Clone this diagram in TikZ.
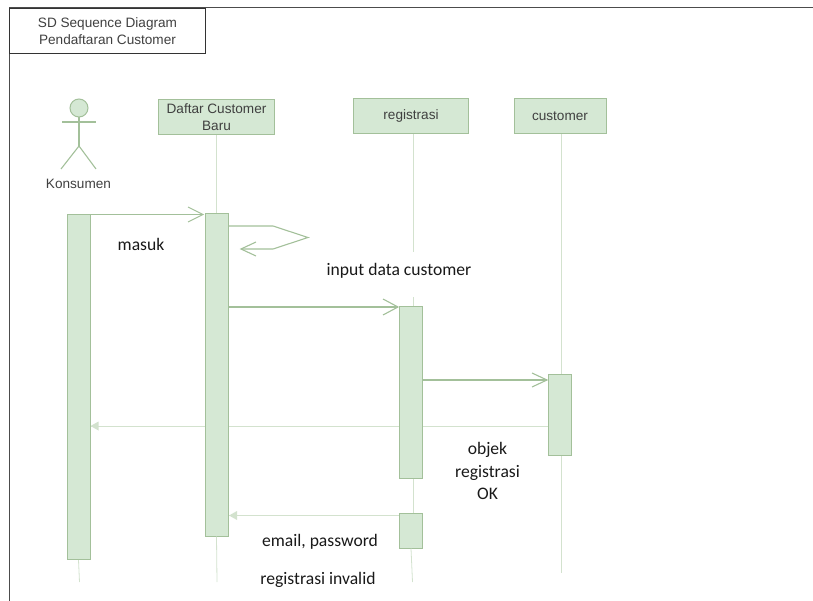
\documentclass[tikz,border=0pt]{standalone}
\usepackage{fontspec}
\setmainfont{Carlito}
\newfontfamily\uifont{Liberation Sans}
\definecolor{lineGreen}{HTML}{A3C09A}
\definecolor{lifeGreen}{HTML}{D3E2CE}
\definecolor{fillGreen}{HTML}{D5E8D4}
\tikzset{
  objbox/.style={draw=lineGreen,line width=1pt,fill=fillGreen,inner sep=0pt,align=center,font=\uifont\fontsize{13.6}{17}\selectfont,text=black!75},
  actbar/.style={draw=lineGreen,line width=1pt,fill=fillGreen,inner sep=0pt,minimum width=23pt},
  lifeline/.style={draw=lifeGreen,line width=0.8pt},
  msg/.style={draw=lineGreen,line width=1.1pt},
  ret/.style={draw=lifeGreen,line width=0.9pt},
  note/.style={font=\fontsize{17.6}{22.5}\selectfont,text=black!90,inner sep=0pt,align=center},
}
\begin{document}
\begin{tikzpicture}[x=1pt,y=-1pt]
  \useasboundingbox (0,0) rectangle (813,601);
  % frame
  \draw[black!70,line width=1pt] (9,601) -- (9,8) -- (813,8);
  \node[draw=black!80,line width=1pt,fill=white,minimum width=196pt,minimum height=45.5pt,inner sep=0pt,align=center,font=\uifont\fontsize{13.6}{17}\selectfont,text=black!75,anchor=north west] (frameTitle) at (9,8) {SD Sequence Diagram\\Pendaftaran Customer};
  % objects
  \node[objbox,minimum width=116pt,minimum height=35pt] (daftar) at (216.5,117) {Daftar Customer\\Baru};
  \node[objbox,minimum width=115pt,minimum height=35pt] (regis) at (411,116) {registrasi};
  \node[objbox,minimum width=92pt,minimum height=35pt] (cust) at (560,116) {customer};
  % actor
  \node[circle,draw=lineGreen,line width=1pt,fill=fillGreen,minimum size=18pt,inner sep=0pt] (head) at (79,108) {};
  \coordinate (hip) at (79,146);
  \coordinate (armL) at (62,122);
  \coordinate (armR) at (96,122);
  \coordinate (footL) at (61,169);
  \coordinate (footR) at (96,169);
  \draw[msg] (head) -- (hip);
  \draw[msg] (armL) -- (armR);
  \draw[msg] (footL) -- (hip) -- (footR);
  \node[font=\uifont\fontsize{13.6}{17}\selectfont,text=black!75,inner sep=0pt] (konsumen) at (78.5,184) {Konsumen};
  % return messages run behind the bars
  \coordinate (retC) at (548.5,426);
  \coordinate (retK) at (90.5,426);
  \coordinate (retR) at (399.5,515.5);
  \coordinate (retD) at (229,515.5);
  \draw[ret] (retC) -- (retK);
  \fill[lifeGreen] (retK) -- (98.5,421.5) -- (98.5,430.5) -- cycle;
  \draw[ret] (retR) -- (retD);
  \fill[lifeGreen] (retD) -- (237,511) -- (237,520) -- cycle;
  % activation bars
  \node[actbar,minimum height=345pt] (barK) at (78.5,387) {};
  \node[actbar,minimum height=322pt] (barD) at (216.5,375) {};
  \node[actbar,minimum height=172.5pt] (barR) at (411,392.5) {};
  \node[actbar,minimum height=35pt] (barRb) at (411,530.5) {};
  \node[actbar,minimum height=81pt] (barC) at (560,415) {};
  % lifelines
  \coordinate (endK) at (79.5,582);
  \coordinate (endD) at (217,582);
  \coordinate (endR) at (412.5,582);
  \coordinate (endC) at (561,573);
  \coordinate (gapTop) at (413,252);
  \coordinate (gapBot) at (413,297);
  \draw[lifeline] (barK.south) -- (endK);
  \draw[lifeline] (daftar.south) -- (barD.north);
  \draw[lifeline] (barD.south) -- (endD);
  \draw[lifeline] (regis.south -| gapTop) -- (gapTop);
  \draw[lifeline] (gapBot) -- (barR.north -| gapBot);
  \draw[lifeline] (barR.south -| gapBot) -- (barRb.north -| gapBot);
  \draw[lifeline] (barRb.south) -- (endR);
  \draw[lifeline] (cust.south -| endC) -- (barC.north -| endC);
  \draw[lifeline] (barC.south -| endC) -- (endC);
  % messages
  \coordinate (selfA) at (273,226);
  \coordinate (selfB) at (308,237.5);
  \coordinate (selfC) at (273,249);
  \coordinate (selfEnd) at (241,249);
  \coordinate (tipA) at (203,214.5);
  \coordinate (arrRa) at (228,307);
  \coordinate (arrRb) at (398,307);
  \coordinate (arrCa) at (423,380);
  \coordinate (arrCb) at (547,380);
  \draw[msg] (barK.north east |- tipA) -- (tipA);
  \draw[msg] (188,207) -- (tipA) -- (188,222);
  \draw[msg] (barD.east |- selfA) -- (selfA) -- (selfB) -- (selfC) -- (selfEnd);
  \draw[msg] (256,242) -- (selfEnd) -- (256,256);
  \draw[msg] (arrRa) -- (arrRb);
  \draw[msg] (383,299) -- (arrRb) -- (383,315);
  \draw[msg] (arrCa) -- (arrCb);
  \draw[msg] (532,373) -- (arrCb) -- (532,387);
  % labels
  \node[note] (lblMasuk) at (141,244) {masuk};
  \node[note] (lblInput) at (399,271) {input data customer};
  \node[note] (lblObjek) at (487.5,471) {objek\\registrasi\\OK};
  \node[note] (lblEmail) at (320,542) {email, password};
  \node[note] (lblInvalid) at (318,580) {registrasi invalid};
\end{tikzpicture}
\end{document}
